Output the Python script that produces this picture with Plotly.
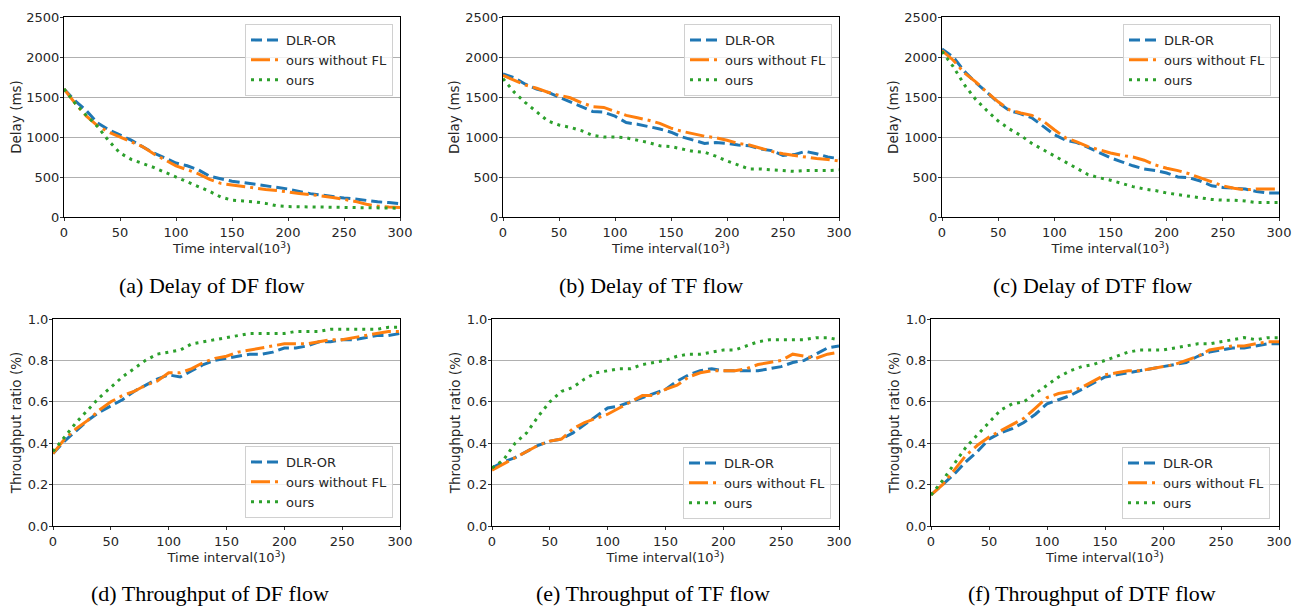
import plotly.graph_objects as go

W, H = 1301, 608
OFF = 8  # the page body keeps an 8px margin, so the figure is drawn 8px smaller and shifted
FW, FH = W - OFF, H - OFF

# time interval (x 10^3)
X = [0, 10, 20, 30, 40, 50, 60, 70, 80, 90, 100, 110, 120, 130, 140, 150,
     160, 170, 180, 190, 200, 210, 220, 230, 240, 250, 260, 270, 280, 290, 300]

SERIES = ["DLR-OR", "ours without FL", "ours"]

# (a) delay of DF flow (ms)
delay_df_dlr = [1600, 1450, 1330, 1175, 1090, 1030, 960, 880, 800, 740, 675, 640, 590, 510, 480,
                446, 430, 410, 390, 370, 350, 320, 292, 275, 255, 237, 225, 204, 190, 180, 167]
delay_df_nofl = [1600, 1420, 1260, 1140, 1060, 1000, 950, 880, 790, 720, 640, 590, 540, 470, 420,
                 400, 380, 360, 345, 330, 310, 295, 280, 265, 245, 220, 195, 160, 135, 125, 120]
delay_df_ours = [1600, 1420, 1270, 1130, 950, 800, 720, 670, 620, 560, 500, 440, 390, 320, 250,
                 210, 200, 190, 170, 140, 130, 128, 125, 122, 120, 120, 118, 112, 110, 110, 110]

# (b) delay of TF flow (ms)
delay_tf_dlr = [1790, 1740, 1660, 1600, 1560, 1500, 1430, 1370, 1320, 1310, 1260, 1180, 1160, 1130, 1100,
                1060, 1000, 960, 920, 930, 920, 900, 890, 850, 830, 770, 780, 820, 790, 750, 730]
delay_tf_nofl = [1770, 1710, 1650, 1610, 1560, 1520, 1490, 1430, 1380, 1370, 1320, 1270, 1240, 1210, 1170,
                 1110, 1070, 1040, 1010, 990, 960, 920, 900, 860, 820, 790, 770, 750, 730, 720, 700]
delay_tf_ours = [1730, 1560, 1430, 1320, 1200, 1150, 1120, 1080, 1020, 1000, 1000, 990, 960, 930, 890,
                 880, 850, 820, 810, 760, 700, 650, 600, 600, 590, 580, 570, 580, 580, 580, 590]

# (c) delay of DTF flow (ms)
delay_dtf_dlr = [2100, 2000, 1820, 1680, 1560, 1430, 1330, 1290, 1240, 1130, 1030, 960, 930, 870, 800,
                 740, 690, 640, 600, 580, 550, 500, 490, 450, 390, 370, 360, 350, 320, 300, 300]
delay_dtf_nofl = [2080, 1960, 1800, 1690, 1560, 1440, 1340, 1300, 1270, 1200, 1090, 990, 940, 880, 840,
                  800, 770, 750, 710, 650, 610, 580, 540, 490, 440, 390, 360, 340, 350, 350, 350]
delay_dtf_ours = [2070, 1880, 1650, 1470, 1330, 1200, 1100, 1020, 920, 840, 760, 680, 600, 530, 490,
                  460, 420, 380, 350, 330, 300, 280, 260, 240, 220, 210, 210, 200, 180, 180, 180]

# (d) throughput ratio of DF flow
thr_df_dlr = [0.35, 0.41, 0.46, 0.51, 0.55, 0.58, 0.61, 0.65, 0.68, 0.71, 0.73, 0.72, 0.75, 0.78, 0.80,
              0.81, 0.82, 0.83, 0.83, 0.84, 0.86, 0.86, 0.87, 0.89, 0.89, 0.90, 0.90, 0.91, 0.92, 0.92, 0.93]
thr_df_nofl = [0.35, 0.42, 0.47, 0.51, 0.56, 0.60, 0.63, 0.65, 0.68, 0.70, 0.74, 0.74, 0.76, 0.79, 0.81,
               0.82, 0.84, 0.85, 0.86, 0.87, 0.88, 0.88, 0.88, 0.89, 0.90, 0.90, 0.91, 0.92, 0.93, 0.94, 0.94]
thr_df_ours = [0.36, 0.43, 0.50, 0.56, 0.62, 0.67, 0.72, 0.76, 0.80, 0.83, 0.84, 0.85, 0.88, 0.89, 0.90,
               0.91, 0.92, 0.93, 0.93, 0.93, 0.93, 0.94, 0.94, 0.94, 0.95, 0.95, 0.95, 0.95, 0.95, 0.96, 0.96]

# (e) throughput ratio of TF flow
thr_tf_dlr = [0.28, 0.31, 0.33, 0.36, 0.39, 0.41, 0.42, 0.45, 0.49, 0.53, 0.57, 0.58, 0.60, 0.62, 0.64,
              0.66, 0.70, 0.73, 0.75, 0.76, 0.75, 0.75, 0.75, 0.75, 0.76, 0.77, 0.79, 0.80, 0.83, 0.86, 0.87]
thr_tf_nofl = [0.27, 0.30, 0.33, 0.36, 0.39, 0.41, 0.42, 0.47, 0.50, 0.52, 0.54, 0.57, 0.60, 0.63, 0.63,
               0.66, 0.68, 0.72, 0.74, 0.75, 0.75, 0.75, 0.76, 0.78, 0.79, 0.80, 0.83, 0.82, 0.81, 0.83, 0.84]
thr_tf_ours = [0.28, 0.32, 0.40, 0.45, 0.53, 0.60, 0.65, 0.67, 0.71, 0.74, 0.75, 0.76, 0.76, 0.78, 0.79,
               0.80, 0.82, 0.83, 0.83, 0.84, 0.85, 0.85, 0.87, 0.89, 0.90, 0.90, 0.90, 0.90, 0.91, 0.91, 0.90]

# (f) throughput ratio of DTF flow
thr_dtf_dlr = [0.15, 0.20, 0.25, 0.31, 0.36, 0.42, 0.45, 0.47, 0.50, 0.54, 0.59, 0.61, 0.63, 0.66, 0.69,
               0.72, 0.73, 0.74, 0.75, 0.76, 0.77, 0.78, 0.79, 0.82, 0.84, 0.85, 0.86, 0.86, 0.87, 0.88, 0.88]
thr_dtf_nofl = [0.15, 0.20, 0.27, 0.34, 0.39, 0.43, 0.46, 0.49, 0.52, 0.57, 0.62, 0.64, 0.65, 0.67, 0.70,
                0.73, 0.74, 0.75, 0.75, 0.76, 0.77, 0.78, 0.80, 0.82, 0.85, 0.86, 0.87, 0.87, 0.88, 0.89, 0.89]
thr_dtf_ours = [0.15, 0.22, 0.30, 0.38, 0.44, 0.50, 0.56, 0.59, 0.60, 0.64, 0.68, 0.72, 0.75, 0.77, 0.78,
                0.80, 0.82, 0.84, 0.85, 0.85, 0.85, 0.86, 0.87, 0.88, 0.88, 0.89, 0.90, 0.91, 0.90, 0.91, 0.91]

CAPTIONS = ["(a) Delay of DF flow", "(b) Delay of TF flow", "(c) Delay of DTF flow",
            "(d) Throughput of DF flow", "(e) Throughput of TF flow", "(f) Throughput of DTF flow"]

COLORS = ["#1f77b4", "#ff7f0e", "#2ca02c"]
DASHES = ["11px,5px", "19px,5px,3px,5px", "3px,5px"]

FONT = "DejaVu Sans"
TXT = "#262626"


def px_x(v):
    return (v - OFF) / FW


def px_y(v):
    return 1 - (v - OFF) / FH


# panel geometry in screen pixels: plot box (left, right, top, bottom), legend (right, top), caption centre x
PANELS = [
    dict(data=[delay_df_dlr, delay_df_nofl, delay_df_ours], kind="delay",
         box=(64, 400, 17, 217), leg=(393, 24), cap=212),
    dict(data=[delay_tf_dlr, delay_tf_nofl, delay_tf_ours], kind="delay",
         box=(503, 839, 17, 217), leg=(832, 24), cap=651),
    dict(data=[delay_dtf_dlr, delay_dtf_nofl, delay_dtf_ours], kind="delay",
         box=(942, 1279, 17, 217), leg=(1271, 24), cap=1092),
    dict(data=[thr_df_dlr, thr_df_nofl, thr_df_ours], kind="thr",
         box=(53, 400, 319, 526), leg=(393, 446), cap=210),
    dict(data=[thr_tf_dlr, thr_tf_nofl, thr_tf_ours], kind="thr",
         box=(492, 839, 319, 526), leg=(831, 447), cap=653),
    dict(data=[thr_dtf_dlr, thr_dtf_nofl, thr_dtf_ours], kind="thr",
         box=(931, 1279, 319, 526), leg=(1270, 447), cap=1092),
]

fig = go.Figure()
layout = dict(
    width=FW, height=FH, margin=dict(l=0, r=0, t=0, b=0, autoexpand=False),
    paper_bgcolor="white", plot_bgcolor="white",
    font=dict(family=FONT, size=13, color=TXT),
    annotations=[],
)

for i, p in enumerate(PANELS):
    n = "" if i == 0 else str(i + 1)
    leg = "legend" + n
    for s, ys in enumerate(p["data"]):
        fig.add_trace(go.Scatter(
            x=X, y=ys, name=SERIES[s], mode="lines",
            line=dict(color=COLORS[s], width=3, dash=DASHES[s]),
            xaxis="x" + n, yaxis="y" + n, legend=leg,
        ))
    l, r, t, b = p["box"]
    axis_common = dict(showline=True, mirror=True, linecolor="black", linewidth=1,
                       ticks="outside", ticklen=3, tickwidth=1, tickcolor="#333333",
                       zeroline=False, automargin=False,
                       tickfont=dict(size=13, color=TXT))
    layout["xaxis" + n] = dict(
        domain=[px_x(l), px_x(r)], anchor="y" + n, range=[0, 300], dtick=50,
        showgrid=False, title=dict(text="Time interval(10<sup>3</sup>)", standoff=0,
                                   font=dict(size=13, color=TXT)),
        **axis_common)
    if p["kind"] == "delay":
        yr, ydt, ytitle, fmt = [0, 2500], 500, "Delay (ms)", "d"
    else:
        yr, ydt, ytitle, fmt = [0, 1.0], 0.2, "Throughput ratio (%)", ".1f"
    layout["yaxis" + n] = dict(
        domain=[px_y(b), px_y(t)], anchor="x" + n, range=yr, dtick=ydt,
        tickformat=fmt, showgrid=True, gridcolor="#b0b0b0", gridwidth=1,
        ticklabelstandoff=-2,
        title=dict(text=ytitle, standoff=2, font=dict(size=13.5, color=TXT)),
        **axis_common)
    lx, ly = p["leg"]
    layout[leg] = dict(
        x=px_x(lx), y=px_y(ly), xanchor="right", yanchor="top",
        xref="paper", yref="paper",
        bgcolor="rgba(255,255,255,0.8)", bordercolor="#d0d0d0", borderwidth=1,
        font=dict(size=13, color=TXT, family=FONT),
    )
    cap_y = 285 if i < 3 else 593
    layout["annotations"].append(dict(
        text=CAPTIONS[i], x=px_x(p["cap"]), y=px_y(cap_y), xref="paper", yref="paper",
        xanchor="center", yanchor="middle", showarrow=False,
        font=dict(family="Liberation Serif", size=22, color="black"),
    ))

fig.update_layout(**layout)
fig.write_html("out.html")
